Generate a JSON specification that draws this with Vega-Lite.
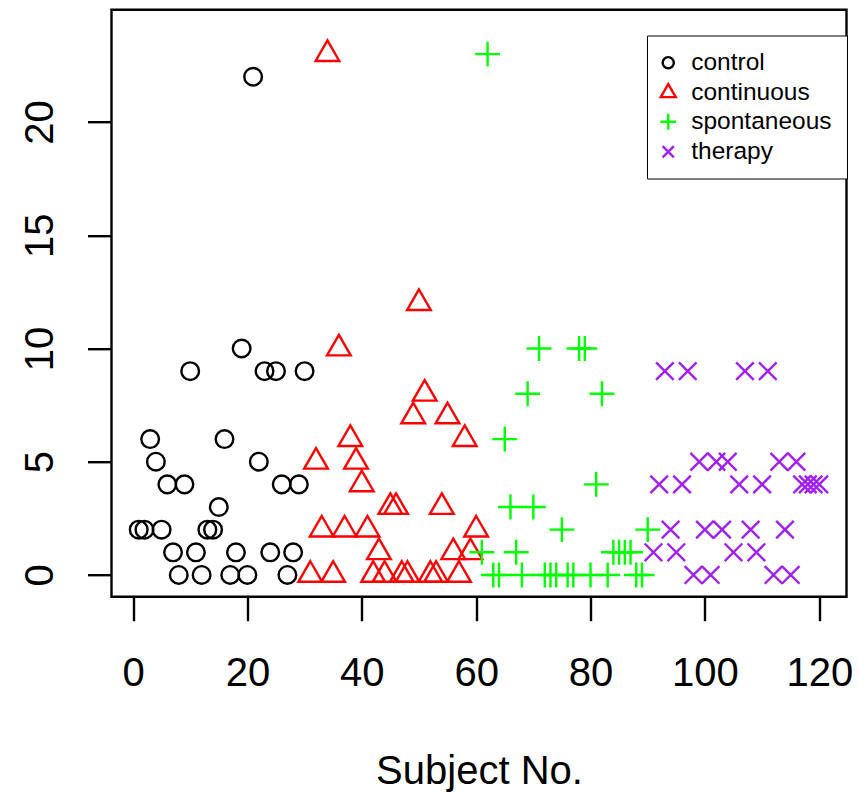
{
  "$schema": "https://vega.github.io/schema/vega-lite/v6.json",
  "width": 735,
  "height": 587,
  "autosize": {"type": "none"},
  "padding": {"left": 111.5, "top": 9.7, "right": 11.5, "bottom": 196.3},
  "background": "white",
  "data": {
    "values": [
      {"subject": 1, "value": 2, "group": "control"},
      {"subject": 2, "value": 2, "group": "control"},
      {"subject": 3, "value": 6, "group": "control"},
      {"subject": 4, "value": 5, "group": "control"},
      {"subject": 5, "value": 2, "group": "control"},
      {"subject": 6, "value": 4, "group": "control"},
      {"subject": 7, "value": 1, "group": "control"},
      {"subject": 8, "value": 0, "group": "control"},
      {"subject": 9, "value": 4, "group": "control"},
      {"subject": 10, "value": 9, "group": "control"},
      {"subject": 11, "value": 1, "group": "control"},
      {"subject": 12, "value": 0, "group": "control"},
      {"subject": 13, "value": 2, "group": "control"},
      {"subject": 14, "value": 2, "group": "control"},
      {"subject": 15, "value": 3, "group": "control"},
      {"subject": 16, "value": 6, "group": "control"},
      {"subject": 17, "value": 0, "group": "control"},
      {"subject": 18, "value": 1, "group": "control"},
      {"subject": 19, "value": 10, "group": "control"},
      {"subject": 20, "value": 0, "group": "control"},
      {"subject": 21, "value": 22, "group": "control"},
      {"subject": 22, "value": 5, "group": "control"},
      {"subject": 23, "value": 9, "group": "control"},
      {"subject": 24, "value": 1, "group": "control"},
      {"subject": 25, "value": 9, "group": "control"},
      {"subject": 26, "value": 4, "group": "control"},
      {"subject": 27, "value": 0, "group": "control"},
      {"subject": 28, "value": 1, "group": "control"},
      {"subject": 29, "value": 4, "group": "control"},
      {"subject": 30, "value": 9, "group": "control"},
      {"subject": 31, "value": 0, "group": "continuous"},
      {"subject": 32, "value": 5, "group": "continuous"},
      {"subject": 33, "value": 2, "group": "continuous"},
      {"subject": 34, "value": 23, "group": "continuous"},
      {"subject": 35, "value": 0, "group": "continuous"},
      {"subject": 36, "value": 10, "group": "continuous"},
      {"subject": 37, "value": 2, "group": "continuous"},
      {"subject": 38, "value": 6, "group": "continuous"},
      {"subject": 39, "value": 5, "group": "continuous"},
      {"subject": 40, "value": 4, "group": "continuous"},
      {"subject": 41, "value": 2, "group": "continuous"},
      {"subject": 42, "value": 0, "group": "continuous"},
      {"subject": 43, "value": 1, "group": "continuous"},
      {"subject": 44, "value": 0, "group": "continuous"},
      {"subject": 45, "value": 3, "group": "continuous"},
      {"subject": 46, "value": 3, "group": "continuous"},
      {"subject": 47, "value": 0, "group": "continuous"},
      {"subject": 48, "value": 0, "group": "continuous"},
      {"subject": 49, "value": 7, "group": "continuous"},
      {"subject": 50, "value": 12, "group": "continuous"},
      {"subject": 51, "value": 8, "group": "continuous"},
      {"subject": 52, "value": 0, "group": "continuous"},
      {"subject": 53, "value": 0, "group": "continuous"},
      {"subject": 54, "value": 3, "group": "continuous"},
      {"subject": 55, "value": 7, "group": "continuous"},
      {"subject": 56, "value": 1, "group": "continuous"},
      {"subject": 57, "value": 0, "group": "continuous"},
      {"subject": 58, "value": 6, "group": "continuous"},
      {"subject": 59, "value": 1, "group": "continuous"},
      {"subject": 60, "value": 2, "group": "continuous"},
      {"subject": 61, "value": 1, "group": "spontaneous"},
      {"subject": 62, "value": 23, "group": "spontaneous"},
      {"subject": 63, "value": 0, "group": "spontaneous"},
      {"subject": 64, "value": 0, "group": "spontaneous"},
      {"subject": 65, "value": 6, "group": "spontaneous"},
      {"subject": 66, "value": 3, "group": "spontaneous"},
      {"subject": 67, "value": 1, "group": "spontaneous"},
      {"subject": 68, "value": 0, "group": "spontaneous"},
      {"subject": 69, "value": 8, "group": "spontaneous"},
      {"subject": 70, "value": 3, "group": "spontaneous"},
      {"subject": 71, "value": 10, "group": "spontaneous"},
      {"subject": 72, "value": 0, "group": "spontaneous"},
      {"subject": 73, "value": 0, "group": "spontaneous"},
      {"subject": 74, "value": 0, "group": "spontaneous"},
      {"subject": 75, "value": 2, "group": "spontaneous"},
      {"subject": 76, "value": 0, "group": "spontaneous"},
      {"subject": 77, "value": 0, "group": "spontaneous"},
      {"subject": 78, "value": 10, "group": "spontaneous"},
      {"subject": 79, "value": 10, "group": "spontaneous"},
      {"subject": 80, "value": 0, "group": "spontaneous"},
      {"subject": 81, "value": 4, "group": "spontaneous"},
      {"subject": 82, "value": 8, "group": "spontaneous"},
      {"subject": 83, "value": 0, "group": "spontaneous"},
      {"subject": 84, "value": 1, "group": "spontaneous"},
      {"subject": 85, "value": 1, "group": "spontaneous"},
      {"subject": 86, "value": 1, "group": "spontaneous"},
      {"subject": 87, "value": 1, "group": "spontaneous"},
      {"subject": 88, "value": 0, "group": "spontaneous"},
      {"subject": 89, "value": 0, "group": "spontaneous"},
      {"subject": 90, "value": 2, "group": "spontaneous"},
      {"subject": 91, "value": 1, "group": "therapy"},
      {"subject": 92, "value": 4, "group": "therapy"},
      {"subject": 93, "value": 9, "group": "therapy"},
      {"subject": 94, "value": 2, "group": "therapy"},
      {"subject": 95, "value": 1, "group": "therapy"},
      {"subject": 96, "value": 4, "group": "therapy"},
      {"subject": 97, "value": 9, "group": "therapy"},
      {"subject": 98, "value": 0, "group": "therapy"},
      {"subject": 99, "value": 5, "group": "therapy"},
      {"subject": 100, "value": 2, "group": "therapy"},
      {"subject": 101, "value": 0, "group": "therapy"},
      {"subject": 102, "value": 5, "group": "therapy"},
      {"subject": 103, "value": 2, "group": "therapy"},
      {"subject": 104, "value": 5, "group": "therapy"},
      {"subject": 105, "value": 1, "group": "therapy"},
      {"subject": 106, "value": 4, "group": "therapy"},
      {"subject": 107, "value": 9, "group": "therapy"},
      {"subject": 108, "value": 2, "group": "therapy"},
      {"subject": 109, "value": 1, "group": "therapy"},
      {"subject": 110, "value": 4, "group": "therapy"},
      {"subject": 111, "value": 9, "group": "therapy"},
      {"subject": 112, "value": 0, "group": "therapy"},
      {"subject": 113, "value": 5, "group": "therapy"},
      {"subject": 114, "value": 2, "group": "therapy"},
      {"subject": 115, "value": 0, "group": "therapy"},
      {"subject": 116, "value": 5, "group": "therapy"},
      {"subject": 117, "value": 4, "group": "therapy"},
      {"subject": 118, "value": 4, "group": "therapy"},
      {"subject": 119, "value": 4, "group": "therapy"},
      {"subject": 120, "value": 4, "group": "therapy"}
    ]
  },
  "mark": {"type": "point", "filled": false, "strokeWidth": 2.4, "size": 310, "opacity": 1},
  "encoding": {
    "x": {
      "field": "subject",
      "type": "quantitative",
      "scale": {"domain": [-3.76, 124.76], "nice": false, "zero": false},
      "axis": {
        "values": [0, 20, 40, 60, 80, 100, 120],
        "domain": false,
        "grid": false,
        "tickSize": 24,
        "tickWidth": 2.4,
        "tickColor": "black",
        "labelFont": "Liberation Sans",
        "labelFontSize": 40,
        "labelColor": "black",
        "labelBaseline": "top",
        "labelPadding": 33,
        "labelFlush": false,
        "labelOverlap": false,
        "title": "Subject No.",
        "titleFont": "Liberation Sans",
        "titleFontSize": 40,
        "titleFontWeight": "normal",
        "titleColor": "black",
        "titleBaseline": "alphabetic",
        "titleAlign": "center",
        "titleX": 367.5,
        "titleY": 187
      }
    },
    "y": {
      "field": "value",
      "type": "quantitative",
      "scale": {"domain": [-0.96, 24.96], "nice": false, "zero": false},
      "axis": {
        "values": [0, 5, 10, 15, 20],
        "domain": false,
        "grid": false,
        "tickSize": 24,
        "tickWidth": 2.4,
        "tickColor": "black",
        "labelFont": "Liberation Sans",
        "labelFontSize": 40,
        "labelColor": "black",
        "labelAngle": -90,
        "labelAlign": "center",
        "labelBaseline": "alphabetic",
        "labelPadding": 35,
        "labelFlush": false,
        "labelOverlap": false,
        "title": null
      }
    },
    "color": {
      "field": "group",
      "type": "nominal",
      "scale": {
        "domain": ["control", "continuous", "spontaneous", "therapy"],
        "range": ["#000000", "#FF0000", "#00FF00", "#A020F0"]
      },
      "legend": {
        "title": null,
        "orient": "none",
        "legendX": 535.5,
        "legendY": 25.8,
        "padding": 15,
        "strokeColor": "black",
        "fillColor": "white",
        "labelFont": "Liberation Sans",
        "labelFontSize": 24.5,
        "labelColor": "black",
        "labelOffset": 10.7,
        "symbolOffset": -6,
        "rowPadding": 4,
        "symbolSize": 125,
        "symbolStrokeWidth": 2.4,
        "encode": {"legend": {"enter": {"strokeWidth": {"value": 2.4}}, "update": {"strokeWidth": {"value": 2.4}}}}
      }
    },
    "shape": {
      "field": "group",
      "type": "nominal",
      "scale": {
        "domain": ["control", "continuous", "spontaneous", "therapy"],
        "range": ["circle", "M0,-1.555L1.347,0.778L-1.347,0.778Z", "M-1.414,0L1.414,0M0,-1.414L0,1.414", "M-1,-1L1,1M-1,1L1,-1"]
      },
      "legend": {
        "title": null,
        "orient": "none",
        "legendX": 535.5,
        "legendY": 25.8,
        "padding": 15,
        "strokeColor": "black",
        "fillColor": "white",
        "labelFont": "Liberation Sans",
        "labelFontSize": 24.5,
        "labelColor": "black",
        "labelOffset": 10.7,
        "symbolOffset": -6,
        "rowPadding": 4,
        "symbolSize": 125,
        "symbolStrokeWidth": 2.4,
        "encode": {"legend": {"enter": {"strokeWidth": {"value": 2.4}}, "update": {"strokeWidth": {"value": 2.4}}}}
      }
    }
  },
  "config": {
    "view": {"stroke": "black", "strokeWidth": 2.4}
  }
}
